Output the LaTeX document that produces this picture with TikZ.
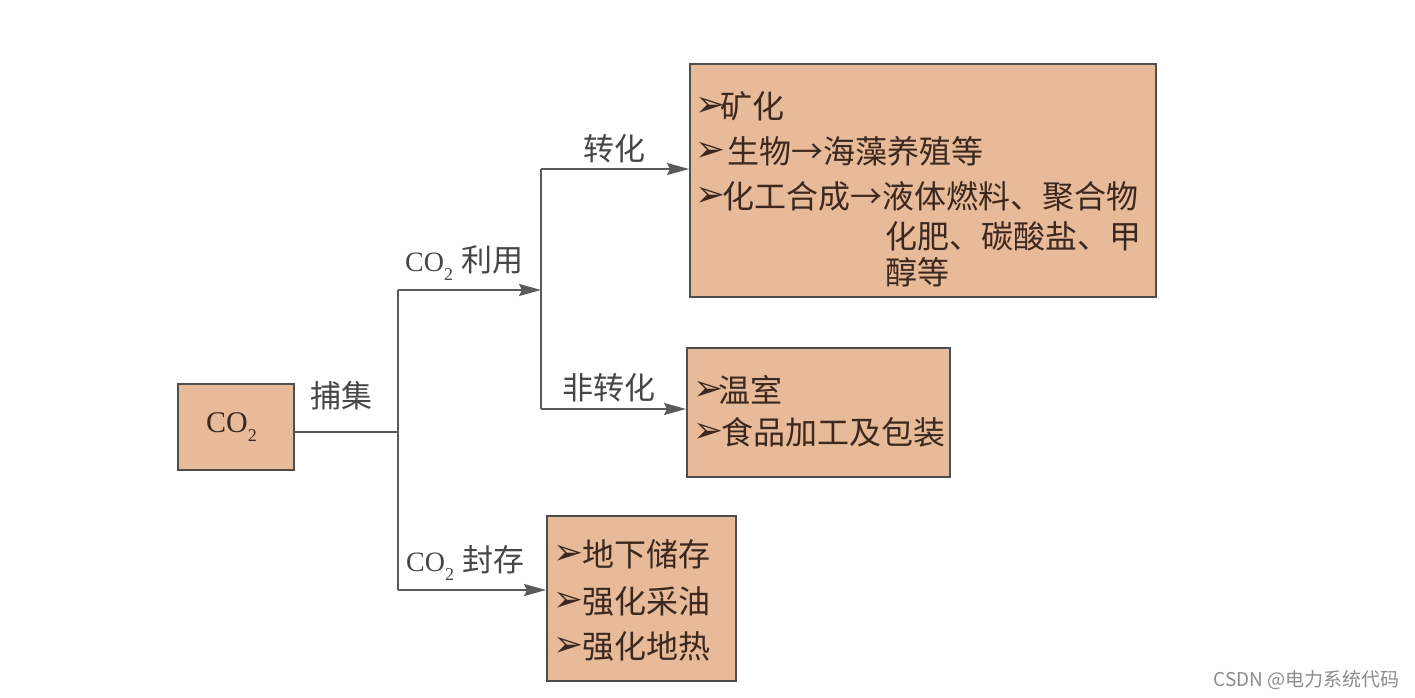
\documentclass[tikz,border=0pt]{standalone}
\usepackage{fontspec}
\setmainfont{Liberation Serif}
\newfontfamily\cjk{Noto Sans CJK SC}
\newfontfamily\dingfont{DejaVu Sans}
\usetikzlibrary{arrows.meta}
\definecolor{boxfill}{RGB}{231,186,153}
\definecolor{boxline}{RGB}{80,78,76}
\definecolor{conncol}{RGB}{90,90,90}
\definecolor{txt}{RGB}{60,40,30}
\definecolor{lbltxt}{RGB}{70,70,70}
\newcommand{\bul}{\makebox[25pt][l]{\raisebox{2pt}{\dingfont\fontsize{36}{36}\selectfont ➢}}}
\newcommand{\rarr}{\makebox[32pt]{→}}
\newcommand{\cosub}{CO\raisebox{-9pt}{\fontsize{18}{18}\selectfont 2}}
\begin{document}
\begin{tikzpicture}[x=1pt,y=-1pt,
  boxnode/.style={draw=boxline, line width=2pt, fill=boxfill, inner sep=0pt},
  item/.style={anchor=west, inner sep=0pt, text=txt, font=\cjk\fontsize{32}{32}\selectfont},
  lbl/.style={anchor=west, inner sep=0pt, text=lbltxt, font=\cjk\fontsize{31}{31}\selectfont},
  colbl/.style={anchor=base west, inner sep=0pt, text=lbltxt},
  conn/.style={draw=conncol, line width=1.8pt},
  arr/.style={conn, -{Stealth[length=22pt,width=12pt,inset=3pt]}}]
\useasboundingbox[fill=white] (0,0) rectangle (1415,698);

% boxes
\node[boxnode, minimum width=116pt, minimum height=86pt] (co2) at (236,427) {};
\node[anchor=base west, inner sep=0pt, text=txt, font=\fontsize{30}{30}\selectfont] (co2t) at (206,432) {\cosub};
\node[boxnode, minimum width=466pt, minimum height=233pt] (top) at (923,180.5) {};
\node[boxnode, minimum width=263pt, minimum height=129pt] (mid) at (818.5,412.5) {};
\node[boxnode, minimum width=189pt, minimum height=165pt] (bot) at (641.5,598.5) {};

% connector points
\coordinate (j1) at (398,432);
\coordinate (jtop) at (398,290);
\coordinate (jbot) at (398,590);
\coordinate (j2) at (541,290);
\coordinate (k1) at (541,169);
\coordinate (k2) at (541,409);

\draw[conn] (co2.east |- j1) -- (j1);
\draw[conn] (jtop) -- (jbot);
\draw[arr] (jtop) -- (j2);
\draw[conn] (k1) -- (k2);
\draw[arr] (k1) -- (top.west |- k1);
\draw[arr] (k2) -- (mid.west |- k2);
\draw[arr] (jbot) -- (bot.west |- jbot);

% connector labels
\node[lbl] (lcap) at (310,396) {捕集};
\node[colbl] (luse) at (405,271) {\fontsize{28}{28}\selectfont\cosub\hspace{8pt}{\cjk\fontsize{31}{31}\selectfont 利用}};
\node[lbl] (lconv) at (583,149) {转化};
\node[lbl] (lnconv) at (562,388) {非转化};
\node[colbl] (lstore) at (406,571) {\fontsize{28}{28}\selectfont\cosub\hspace{8pt}{\cjk\fontsize{31}{31}\selectfont 封存}};

% top box text
\node[item] (t1) at (695,106) {\bul 矿化};
\node[item] (t2) at (695,151) {\bul\hspace{7pt}生物\rarr 海藻养殖等};
\node[item] (t3) at (695,196) {\bul\hspace{2pt}化工合成\rarr 液体燃料、聚合物};
\node[item] (t4) at (885,236) {化肥、碳酸盐、甲};
\node[item] (t5) at (885,272) {醇等};

% middle box text
\node[item] (m1) at (693,390) {\bul 温室};
\node[item] (m2) at (693,432) {\bul\hspace{3pt}食品加工及包装};

% bottom box text
\node[item] (b1) at (553,554) {\bul\hspace{4pt}地下储存};
\node[item] (b2) at (553,601) {\bul\hspace{4pt}强化采油};
\node[item] (b3) at (553,646) {\bul\hspace{4pt}强化地热};

% watermark
\node[anchor=east, inner sep=0pt, text=black!45, font=\cjk\fontsize{19}{19}\selectfont] (wm) at (1400,680) {CSDN @电力系统代码};
\end{tikzpicture}
\end{document}
